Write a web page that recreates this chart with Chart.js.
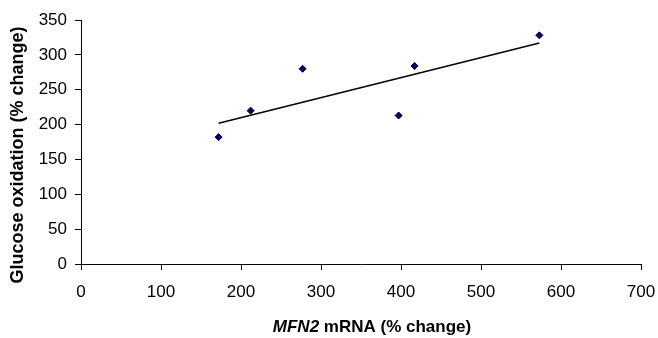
<!DOCTYPE html>
<html lang="en">
<head>
    <meta charset="UTF-8">
    <title>Glucose oxidation vs MFN2 mRNA</title>
    <script src="https://cdn.jsdelivr.net/npm/chart.js"></script>
    <style>
        body {
            margin: 0;
            background: #fff;
        }
        #chart {
            display: block;
        }
    </style>
</head>
<body>
    <canvas id="chart" width="658" height="338"></canvas>

    <script>
        // values
        let mfn2 = [172, 212, 277, 397, 417, 573];
        let glucose = [182, 220, 280, 213, 284, 328];
        // trend line ends as drawn in the original
        let trendX = [172, 573];
        let trendY = [202, 317];
        let xTicks = [0, 100, 200, 300, 400, 500, 600, 700];
        let yTicks = [0, 50, 100, 150, 200, 250, 300, 350];

        let fontFamily = '"Liberation Sans", Arial, sans-serif';

        // axis titles drawn by hand: the x one has an italic gene name
        let titlesPlugin = {
            id: 'axisTitles',
            afterDraw(chart) {
                let ctx = chart.ctx;
                ctx.save();
                ctx.fillStyle = '#000';
                ctx.textBaseline = 'middle';

                let a = 'MFN2', b = ' mRNA (% change)';
                ctx.font = 'italic bold 17px ' + fontFamily;
                let wa = ctx.measureText(a).width;
                ctx.font = 'bold 17px ' + fontFamily;
                let wb = ctx.measureText(b).width;
                let x0 = 372 - (wa + wb) / 2;
                ctx.font = 'italic bold 17px ' + fontFamily;
                ctx.fillText(a, x0, 327);
                ctx.font = 'bold 17px ' + fontFamily;
                ctx.fillText(b, x0 + wa, 327);

                ctx.translate(18, 155);
                ctx.rotate(-Math.PI / 2);
                ctx.textAlign = 'center';
                ctx.font = 'bold 18px ' + fontFamily;
                ctx.fillText('Glucose oxidation (% change)', 0, 0);
                ctx.restore();
            }
        };

        new Chart(document.getElementById('chart'), {
            type: 'scatter',
            data: {
                datasets: [
                    {
                        data: mfn2.map((x, i) => ({ x: x, y: glucose[i] })),
                        pointStyle: 'rectRot',
                        pointRadius: 3.5,
                        pointBackgroundColor: '#000080',
                        pointBorderColor: '#000',
                        pointBorderWidth: 1,
                        order: 1
                    },
                    {
                        type: 'line',
                        data: trendX.map((x, i) => ({ x: x, y: trendY[i] })),
                        borderColor: '#000',
                        borderWidth: 1.5,
                        pointRadius: 0,
                        fill: false,
                        order: 2
                    }
                ]
            },
            options: {
                responsive: false,
                animation: false,
                layout: { padding: { top: 20, right: 0, left: 0, bottom: 0 } },
                plugins: {
                    legend: { display: false },
                    tooltip: { enabled: false }
                },
                scales: {
                    x: {
                        type: 'linear',
                        min: xTicks[0],
                        max: xTicks[xTicks.length - 1],
                        afterFit: s => { s.height = 74; s.paddingRight = 17; },
                        grid: { drawOnChartArea: false, color: '#000', tickLength: 6 },
                        border: { color: '#000' },
                        ticks: { stepSize: xTicks[1] - xTicks[0], color: '#000', padding: 12, font: { family: fontFamily, size: 17 } }
                    },
                    y: {
                        type: 'linear',
                        min: yTicks[0],
                        max: yTicks[yTicks.length - 1],
                        afterFit: s => { s.width = 81; },
                        grid: { drawOnChartArea: false, color: '#000', tickLength: 6 },
                        border: { color: '#000' },
                        ticks: { stepSize: yTicks[1] - yTicks[0], color: '#000', padding: 8, font: { family: fontFamily, size: 17 } }
                    }
                }
            },
            plugins: [titlesPlugin]
        });
    </script>
</body>
</html>
